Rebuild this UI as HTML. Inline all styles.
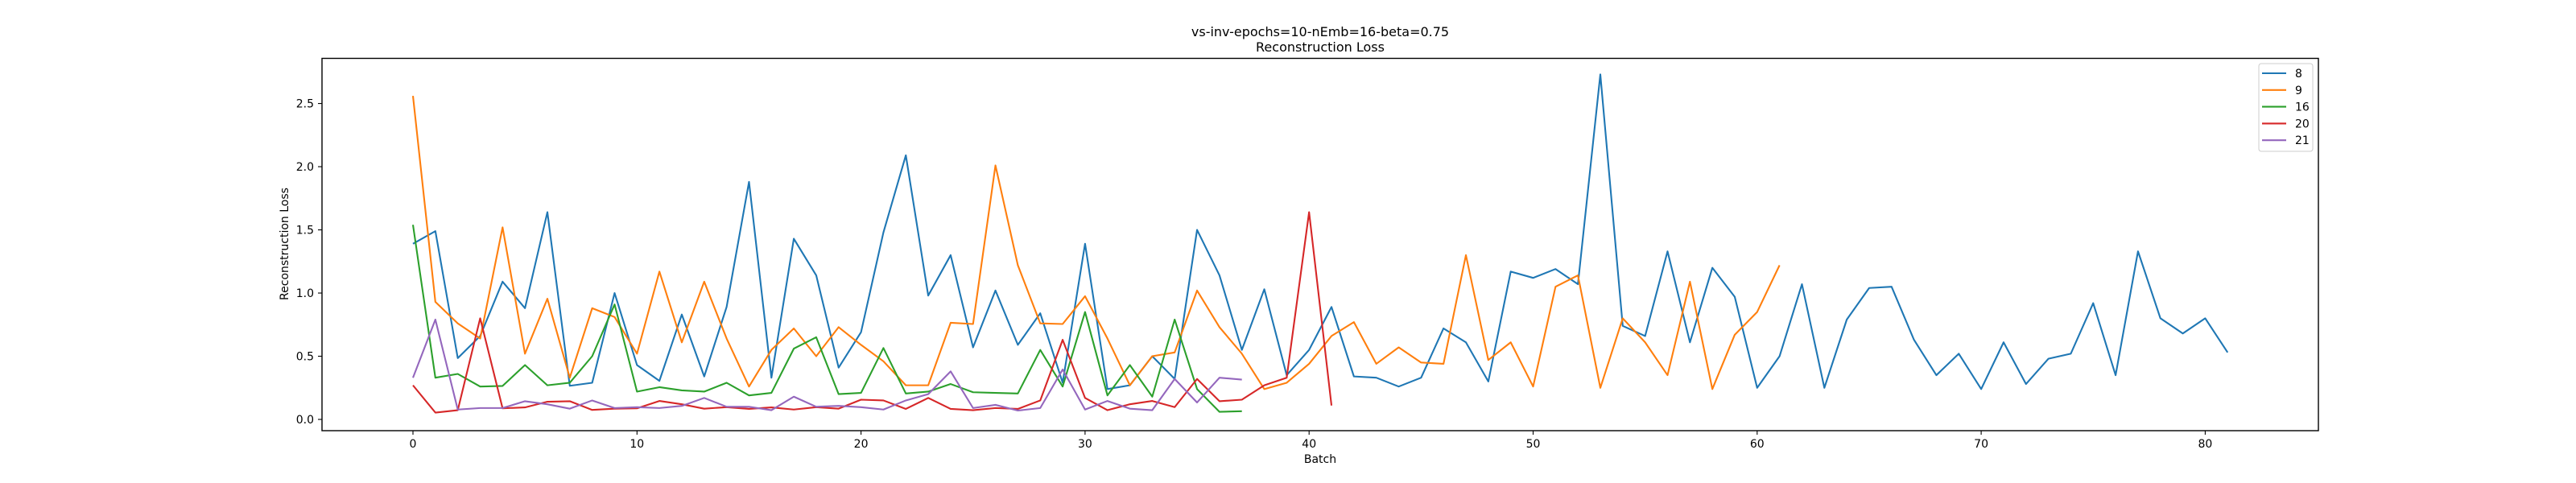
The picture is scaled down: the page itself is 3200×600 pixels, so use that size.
<!DOCTYPE html>
<html><head><meta charset="utf-8">
<style>
html,body{margin:0;padding:0;background:#fff;}
svg{display:block;font-family:"DejaVu Sans","Liberation Sans",sans-serif;}
</style></head>
<body>
<svg id="chart" width="3200" height="600" viewBox="0 0 3200 600" xmlns="http://www.w3.org/2000/svg">
<rect width="3200" height="600" fill="#fff"/>
<text x="1640" y="45" text-anchor="middle" font-size="16">vs-inv-epochs=10-nEmb=16-beta=0.75</text>
<text x="1640" y="64" text-anchor="middle" font-size="16">Reconstruction Loss</text>
<g id="grid-layer"></g>
<g id="series-layer"></g>
<rect x="400" y="72.5" width="2480" height="462.5" fill="none" stroke="#000" stroke-width="1.4"/>
<g id="axis-layer"></g>
<text x="1640" y="575" text-anchor="middle" font-size="14">Batch</text>
<text x="358" y="303" text-anchor="middle" font-size="14" transform="rotate(-90 358 303)">Reconstruction Loss</text>
<g id="legend-layer"></g>
</svg>
<script>
const seriesNames = ["8","9","16","20","21"];
const seriesColors = ["#1f77b4","#ff7f0e","#2ca02c","#d62728","#9467bd"];
const s8 = [1.39,1.49,0.485,0.66,1.09,0.88,1.64,0.266,0.29,1.0,0.43,0.305,0.83,0.34,0.89,1.88,0.33,1.43,1.14,0.41,0.69,1.48,2.09,0.98,1.30,0.57,1.02,0.59,0.84,0.29,1.39,0.24,0.27,0.50,0.32,1.50,1.14,0.55,1.03,0.35,0.55,0.89,0.34,0.33,0.26,0.33,0.72,0.61,0.30,1.17,1.12,1.19,1.07,2.73,0.74,0.66,1.33,0.61,1.20,0.97,0.25,0.50,1.07,0.25,0.79,1.04,1.05,0.63,0.35,0.52,0.24,0.61,0.28,0.48,0.52,0.92,0.35,1.33,0.80,0.68,0.80,0.53];
const s9 = [2.56,0.93,0.76,0.64,1.52,0.52,0.955,0.33,0.88,0.81,0.52,1.17,0.61,1.09,0.64,0.26,0.55,0.72,0.50,0.73,0.59,0.46,0.27,0.27,0.765,0.755,2.01,1.22,0.76,0.755,0.975,0.64,0.27,0.50,0.53,1.02,0.73,0.52,0.24,0.29,0.44,0.66,0.77,0.44,0.57,0.45,0.44,1.30,0.47,0.61,0.26,1.05,1.14,0.25,0.80,0.61,0.35,1.09,0.24,0.67,0.85,1.22];
const s16 = [1.54,0.33,0.36,0.26,0.265,0.43,0.27,0.29,0.50,0.91,0.22,0.255,0.23,0.22,0.29,0.19,0.21,0.56,0.65,0.20,0.21,0.565,0.205,0.22,0.28,0.215,0.21,0.205,0.55,0.26,0.85,0.19,0.43,0.18,0.79,0.24,0.06,0.065];
const s20 = [0.27,0.054,0.073,0.80,0.088,0.095,0.14,0.144,0.075,0.085,0.088,0.146,0.12,0.085,0.097,0.083,0.095,0.078,0.097,0.085,0.156,0.15,0.083,0.17,0.083,0.073,0.09,0.083,0.15,0.63,0.17,0.073,0.12,0.146,0.097,0.32,0.144,0.156,0.27,0.33,1.64,0.11];
const s21 = [0.33,0.79,0.078,0.09,0.09,0.144,0.12,0.085,0.15,0.09,0.097,0.09,0.107,0.17,0.10,0.10,0.073,0.18,0.10,0.107,0.097,0.078,0.15,0.20,0.38,0.09,0.115,0.07,0.09,0.395,0.078,0.146,0.085,0.073,0.32,0.134,0.33,0.315];
const xTicks = [0,10,20,30,40,50,60,70,80];
const yTicks = [0.0,0.5,1.0,1.5,2.0,2.5];
const yTickLabels = ["0.0","0.5","1.0","1.5","2.0","2.5"];

const NS = "http://www.w3.org/2000/svg";
const X0 = 513, XS = 27.83;
const Y0 = 521, YS = 156.97;
function xScale(v){ return X0 + v*XS; }
function yScale(v){ return Y0 - v*YS; }
function mk(tag, attrs, parent){
  const e = document.createElementNS(NS, tag);
  for (const k in attrs) e.setAttribute(k, attrs[k]);
  parent.appendChild(e);
  return e;
}
const seriesData = [s8,s9,s16,s20,s21];
const sl = document.getElementById("series-layer");
seriesData.forEach((arr, si) => {
  const pts = arr.map((v,i) => xScale(i).toFixed(2)+","+yScale(v).toFixed(2)).join(" ");
  const pl = mk("polyline", {points: pts, fill: "none", stroke: seriesColors[si], "stroke-width": 2.1, "stroke-linejoin": "round"}, sl);
  
  
});
const al = document.getElementById("axis-layer");
xTicks.forEach(t => {
  const x = xScale(t);
  const ln = mk("line", {x1:x, x2:x, y1:535, y2:540, stroke:"#000", "stroke-width":1.1}, al);
  
  
  const tx = mk("text", {x:x, y:556, "text-anchor":"middle", "font-size":14}, al);
  tx.textContent = String(t);
  
  
});
yTicks.forEach((t, i) => {
  const y = yScale(t);
  const ln = mk("line", {x1:395, x2:400, y1:y, y2:y, stroke:"#000", "stroke-width":1.1}, al);
  
  
  const tx = mk("text", {x:390, y:y+5, "text-anchor":"end", "font-size":14}, al);
  tx.textContent = yTickLabels[i];
  
  
});
const lg = document.getElementById("legend-layer");
const box = mk("rect", {x:2806, y:79, width:67, height:109, rx:3, fill:"#fff", "fill-opacity":0.8, stroke:"#ccc", "stroke-width":1}, lg);


seriesNames.forEach((n, i) => {
  const y = 91 + i*20.8;
  const ln = mk("line", {x1:2810, x2:2840, y1:y, y2:y, stroke:seriesColors[i], "stroke-width":2.1}, lg);
  
  
  const tx = mk("text", {x:2851, y:y+5, "font-size":14}, lg);
  tx.textContent = n;
  
  
});
</script>
</body></html>
